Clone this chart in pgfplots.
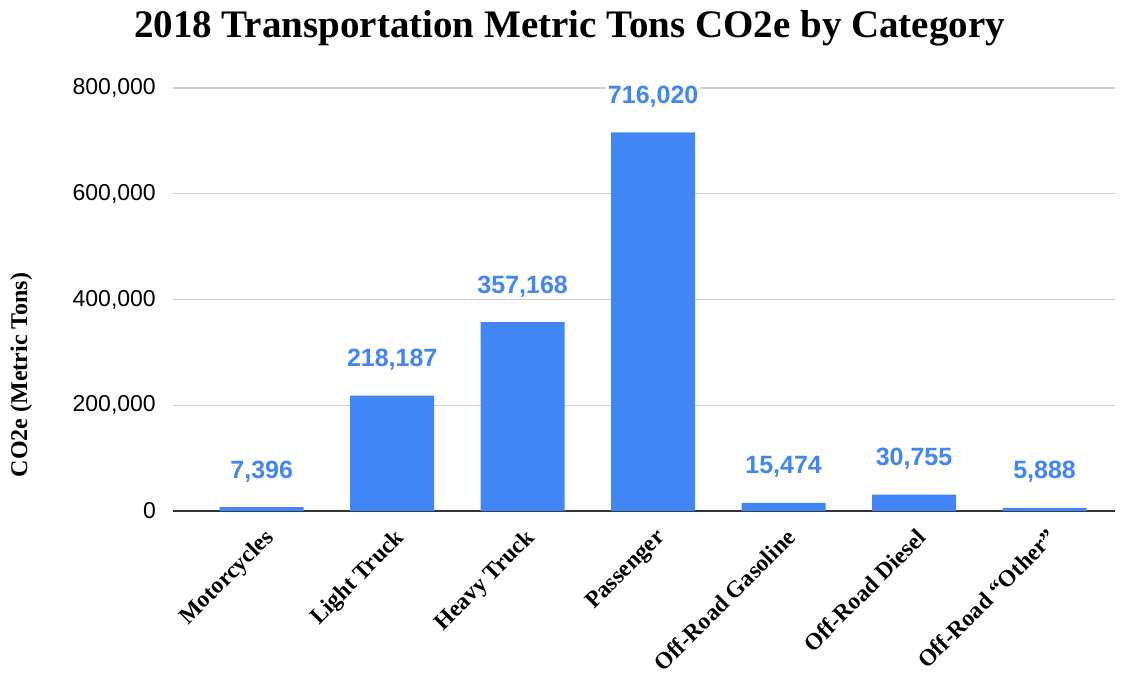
\documentclass[border=0pt]{standalone}
\usepackage{pgfplots}
\pgfplotsset{compat=1.18}
\usepackage{fontspec}
\setmainfont{Liberation Serif}
\newfontfamily\sans{Liberation Sans}
\definecolor{barblue}{HTML}{4285F4}
\definecolor{gridgray}{HTML}{D0D0D0}
\definecolor{zeroline}{HTML}{333333}

\begin{document}
\begin{tikzpicture}
\path[use as bounding box] (0,0) rectangle (1129pt,677pt);
\begin{axis}[
  at={(173pt,166pt)}, anchor=south west,
  scale only axis,
  width=942pt, height=423pt,
  ybar, bar width=84pt,
  xmin=-0.68, xmax=6.54,
  ymin=0, ymax=800000,
  xtick={0,...,6},
  xticklabels={Motorcycles, Light Truck, Heavy Truck, Passenger, Off-Road Gasoline, Off-Road Diesel, Off-Road ``Other''},
  ytick={200000,400000,600000,800000},
  extra y ticks={0},
  extra y tick style={grid style={color=zeroline, line width=1.6pt}},
  scaled y ticks=false,
  /pgf/number format/fixed,
  /pgf/number format/precision=0,
  /pgf/number format/1000 sep={,},
  /pgf/number format/assume math mode=true,
  axis line style={draw=none},
  major tick length=0pt,
  ymajorgrids,
  grid style={color=gridgray, line width=1.3pt},
  yticklabel style={font=\sans\fontsize{23}{23}\selectfont, anchor=east, inner sep=0pt, xshift=-17pt},
  xticklabel style={font=\bfseries\fontsize{23.5}{23.5}\selectfont, rotate=45, anchor=north east, inner sep=0pt, xshift=-10.5pt, yshift=-12.5pt},
  title={2018 Transportation Metric Tons CO2e by Category},
  title style={font=\bfseries\fontsize{39}{39}\selectfont, at={(0.421,1)}, anchor=base, yshift=44pt},
  ylabel={CO2e (Metric Tons)},
  ylabel style={font=\bfseries\fontsize{24}{24}\selectfont, at={(axis description cs:-0.161,0.3215)}, anchor=center},
  nodes near coords,
  nodes near coords style={font=\sans\bfseries\fontsize{25}{25}\selectfont, color=barblue, anchor=base, fill=white, inner sep=2pt, yshift=29pt},
]
\addplot[fill=barblue, draw=none] coordinates {
  (0, 7396) (1, 218187) (2, 357168) (3, 716020) (4, 15474) (5, 30755) (6, 5888)
};
\end{axis}
\end{tikzpicture}
\end{document}
